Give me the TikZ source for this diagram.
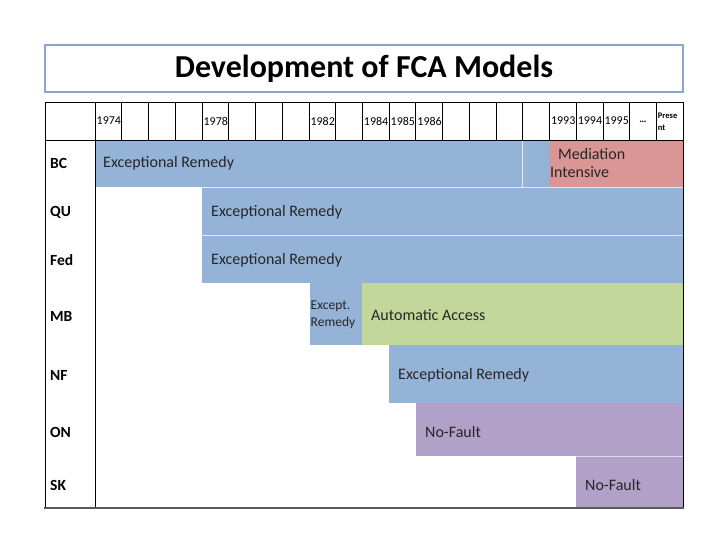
\documentclass[tikz,border=0pt]{standalone}
\usepackage{fontspec}
\setmainfont{Carlito}
\definecolor{fcablue}{HTML}{95B3D7}
\definecolor{fcared}{HTML}{DA9694}
\definecolor{fcagreen}{HTML}{C4D79B}
\definecolor{fcapurple}{HTML}{B1A0C7}
\definecolor{titleline}{HTML}{8AA6CD}
\begin{document}
\begin{tikzpicture}[x=1pt, y=-1pt,
  every node/.style={inner sep=0pt},
  bartext/.style={anchor=west, align=left, font=\fontsize{16}{17}\selectfont, text=black!85},
  smalltext/.style={anchor=west, align=left, font=\fontsize{13.5}{17}\selectfont, text=black!85},
  rowlabel/.style={anchor=west, font=\bfseries\fontsize{15.5}{17}\selectfont},
  yearlabel/.style={anchor=west, font=\fontsize{12}{12}\selectfont},
  cellsep/.style={white!70!fcablue, line width=0.6pt}]
  \useasboundingbox (0,0) rectangle (728,546);
  \def\cw{26.727}

  % title box
  \draw[titleline, line width=2pt] (45,45) rectangle (683,92);
  \node[font=\bfseries\fontsize{32}{36}\selectfont] (title) at (364,69) {Development of FCA Models};

  % coloured periods
  \fill[fcablue]   (95,140)  rectangle (549,187);
  \fill[fcared]    (549,140) rectangle (683,187);
  \fill[fcablue]   (202,187) rectangle (683,283);
  \fill[fcablue]   (310,283) rectangle (362,345);
  \fill[fcagreen]  (362,283) rectangle (683,345);
  \fill[fcablue]   (389,345) rectangle (683,403);
  \fill[fcapurple] (416,403) rectangle (683,456);
  \fill[fcapurple] (576,456) rectangle (683,508);

  % faint cell edges
  \draw[cellsep] ({95+16*\cw},140) -- ({95+16*\cw},187);
  \draw[cellsep] (202,187) -- (683,187);
  \draw[cellsep] (202,235) -- (683,235);
  \draw[white!60!fcapurple, line width=0.6pt] (576,456) -- (683,456);

  % table frame and header grid
  \draw[line width=0.8pt] (45,102) -- (683,102);
  \draw[line width=0.8pt] (45,140) -- (683,140);
  \foreach \i in {1,...,21}{\draw[line width=0.6pt] ({95+\i*\cw},102) -- ({95+\i*\cw},140);}
  \draw[line width=0.8pt] (45,102) -- (45,508);
  \draw[line width=0.8pt] (95,102) -- (95,508);
  \draw[line width=0.8pt] (683,102) -- (683,508);
  \draw[black!65, line width=1.6pt] (44,508) -- (684,508);

  % years
  \foreach \i/\yr in {0/1974, 4/1978, 8/1982, 10/1984, 11/1985, 12/1986, 17/1993, 18/1994, 19/1995}
    {\node[yearlabel] (y\yr) at ({95+\i*\cw+1.5},121) {\yr};}
  \node[font=\bfseries\fontsize{10}{12}\selectfont] (dots) at ({95+20.5*\cw},122) {\dots};
  \node[anchor=west, align=left, font=\bfseries\fontsize{8.5}{12.5}\selectfont] (present) at ({95+21*\cw+1.5},122) {Prese\\nt};

  % provinces
  \node[rowlabel] (bc)  at (50,163) {BC};
  \node[rowlabel] (qu)  at (50,212) {QU};
  \node[rowlabel] (fed) at (50,260) {Fed};
  \node[rowlabel] (mb)  at (50,316) {MB};
  \node[rowlabel] (nf)  at (50,375) {NF};
  \node[rowlabel] (on)  at (50,432) {ON};
  \node[rowlabel] (sk)  at (50,485) {SK};

  % models
  \node[bartext] (bcer)  at (103,163) {Exceptional Remedy};
  \node[bartext] (bcmi)  at (550,163) {\hspace*{8pt}Mediation\\[1pt]Intensive};
  \node[bartext] (quer)  at (211,212) {Exceptional Remedy};
  \node[bartext] (feder) at (211,260) {Exceptional Remedy};
  \node[smalltext] (mber) at (310.5,315) {Except.\\Remedy};
  \node[bartext] (mbaa)  at (371,315) {Automatic Access};
  \node[bartext] (nfer)  at (398,375) {Exceptional Remedy};
  \node[bartext] (onnf)  at (425,432) {No-Fault};
  \node[bartext] (sknf)  at (585,485) {No-Fault};
\end{tikzpicture}
\end{document}
